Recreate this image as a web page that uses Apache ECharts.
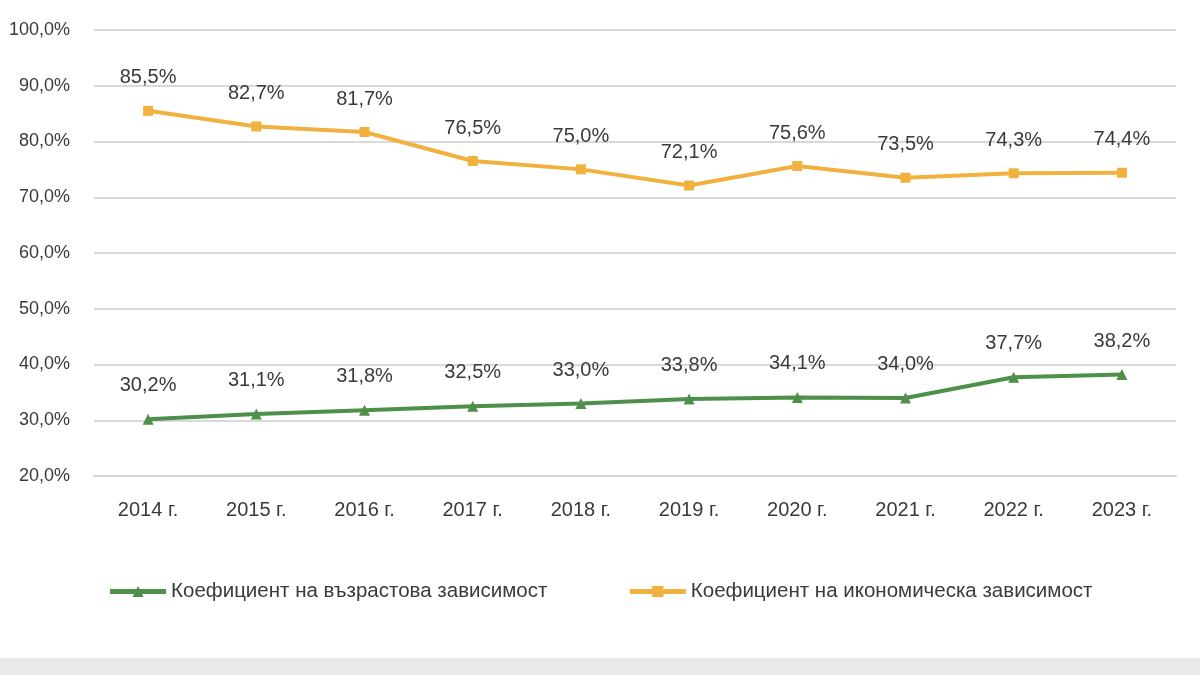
<!DOCTYPE html>
<html>
<head>
<meta charset="utf-8">
<script src="https://cdn.jsdelivr.net/npm/echarts@6/dist/echarts.min.js"></script>
<style>
  html, body { margin: 0; padding: 0; background: #fff; }
  #chart { width: 1200px; height: 675px; }
</style>
</head>
<body>
<div id="chart"></div>
<script>
const years = ["2014 г.", "2015 г.", "2016 г.", "2017 г.", "2018 г.", "2019 г.", "2020 г.", "2021 г.", "2022 г.", "2023 г."];
const ageDependency = [30.2, 31.1, 31.8, 32.5, 33.0, 33.8, 34.1, 34.0, 37.7, 38.2];
const econDependency = [85.5, 82.7, 81.7, 76.5, 75.0, 72.1, 75.6, 73.5, 74.3, 74.4];
const seriesNames = ["Коефициент на възрастова зависимост", "Коефициент на икономическа зависимост"];

const font = "'Liberation Sans', Arial, sans-serif";
const pct = v => v.toFixed(1).replace(".", ",") + "%";

let myChart = echarts.init(document.getElementById("chart"));
myChart.setOption({
  animation: false,
  grid: { left: 94, right: 24, top: 30, bottom: 199 },
  legend: {
    top: 576,
    left: "center",
    itemGap: 80,
    itemWidth: 56,
    itemHeight: 14,
    lineStyle: { width: 5 },
    textStyle: { color: "#3a3a3a", fontSize: 20.5, fontFamily: font },
    data: seriesNames
  },
  xAxis: {
    type: "category",
    data: years,
    axisTick: { show: false },
    axisLine: { lineStyle: { color: "#d9d9d9", width: 2 } },
    axisLabel: { color: "#3a3a3a", fontSize: 20, fontFamily: font, margin: 24 }
  },
  yAxis: {
    type: "value",
    min: 20,
    max: 100,
    interval: 10,
    axisLabel: { color: "#3a3a3a", fontSize: 18, fontFamily: font, margin: 24, formatter: v => pct(v) },
    splitLine: { lineStyle: { color: "#d9d9d9", width: 2 } }
  },
  series: [
    {
      name: seriesNames[0],
      type: "line",
      data: ageDependency,
      symbol: "triangle",
      symbolSize: 11,
      lineStyle: { color: "#4e8f4a", width: 4 },
      itemStyle: { color: "#4e8f4a" },
      label: { show: true, position: "top", distance: 18, color: "#3a3a3a", fontSize: 20, fontFamily: font, formatter: p => pct(p.value) }
    },
    {
      name: seriesNames[1],
      type: "line",
      data: econDependency,
      symbol: "rect",
      symbolSize: 10,
      lineStyle: { color: "#f0b13e", width: 4 },
      itemStyle: { color: "#f0b13e" },
      label: { show: true, position: "top", distance: 18, color: "#3a3a3a", fontSize: 20, fontFamily: font, formatter: p => pct(p.value) }
    }
  ],
  graphic: [
    { type: "rect", left: 0, top: 658, shape: { width: 1200, height: 17 }, style: { fill: "#e9e9e9" } }
  ]
});
</script>
</body>
</html>
